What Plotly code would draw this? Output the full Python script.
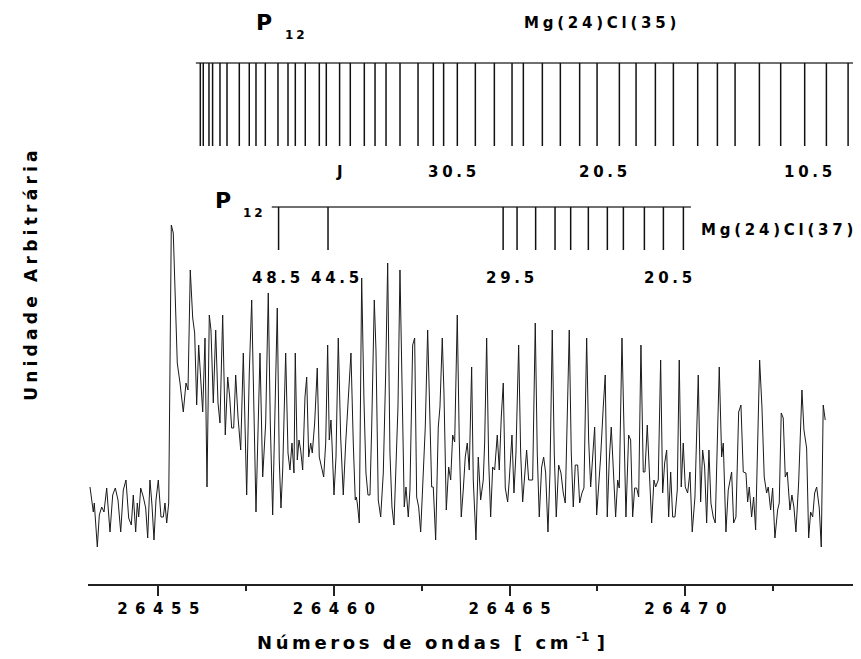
import plotly.graph_objects as go

# ---------------- data ----------------
wavenumber = [
    26453.057, 26453.151, 26453.179, 26453.265, 26453.322, 26453.390, 26453.455, 26453.532, 26453.626, 26453.703,
    26453.777, 26453.854, 26453.931, 26454.005, 26454.081, 26454.158, 26454.232, 26454.289, 26454.357, 26454.403,
    26454.443, 26454.500, 26454.574, 26454.642, 26454.699, 26454.764, 26454.821, 26454.878, 26454.935, 26455.001,
    26455.077, 26455.143, 26455.191, 26455.240, 26455.297, 26455.334, 26455.371, 26455.427, 26455.484, 26455.541,
    26455.618, 26455.712, 26455.789, 26455.846, 26455.911, 26455.980, 26456.036, 26456.093, 26456.150, 26456.207,
    26456.264, 26456.330, 26456.387, 26456.452, 26456.500, 26456.566, 26456.634, 26456.700, 26456.756, 26456.833,
    26456.907, 26456.976, 26457.033, 26457.089, 26457.146, 26457.203, 26457.269, 26457.346, 26457.420, 26457.516,
    26457.590, 26457.659, 26457.704, 26457.781, 26457.895, 26457.972, 26458.057, 26458.131, 26458.188, 26458.256,
    26458.322, 26458.387, 26458.444, 26458.492, 26458.541, 26458.626, 26458.692, 26458.748, 26458.805, 26458.862,
    26458.899, 26458.956, 26459.005, 26459.053, 26459.110, 26459.175, 26459.224, 26459.281, 26459.338, 26459.383,
    26459.451, 26459.525, 26459.582, 26459.651, 26459.708, 26459.765, 26459.821, 26459.867, 26459.915, 26459.944,
    26460.001, 26460.058, 26460.123, 26460.191, 26460.265, 26460.334, 26460.419, 26460.484, 26460.550, 26460.607,
    26460.635, 26460.664, 26460.721, 26460.789, 26460.854, 26460.911, 26460.968, 26461.025, 26461.074, 26461.148,
    26461.196, 26461.261, 26461.330, 26461.404, 26461.472, 26461.529, 26461.594, 26461.651, 26461.708, 26461.765,
    26461.822, 26461.879, 26461.936, 26462.001, 26462.050, 26462.115, 26462.163, 26462.240, 26462.297, 26462.354,
    26462.411, 26462.468, 26462.542, 26462.599, 26462.667, 26462.713, 26462.781, 26462.827, 26462.895, 26462.969,
    26463.017, 26463.083, 26463.131, 26463.197, 26463.265, 26463.322, 26463.379, 26463.436, 26463.510, 26463.566,
    26463.623, 26463.680, 26463.737, 26463.794, 26463.851, 26463.919, 26463.965, 26464.042, 26464.107, 26464.175,
    26464.249, 26464.289, 26464.346, 26464.403, 26464.460, 26464.517, 26464.574, 26464.648, 26464.705, 26464.762,
    26464.819, 26464.876, 26464.944, 26464.989, 26465.066, 26465.123, 26465.180, 26465.257, 26465.314, 26465.371,
    26465.428, 26465.484, 26465.541, 26465.655, 26465.729, 26465.786, 26465.843, 26465.911, 26465.968, 26466.025,
    26466.091, 26466.148, 26466.213, 26466.270, 26466.327, 26466.395, 26466.461, 26466.526, 26466.583, 26466.640,
    26466.697, 26466.754, 26466.811, 26466.868, 26466.936, 26466.993, 26467.058, 26467.115, 26467.192, 26467.249,
    26467.306, 26467.363, 26467.420, 26467.477, 26467.534, 26467.590, 26467.664, 26467.721, 26467.778, 26467.835,
    26467.892, 26467.960, 26468.017, 26468.074, 26468.120, 26468.197, 26468.254, 26468.310, 26468.387, 26468.444,
    26468.501, 26468.558, 26468.615, 26468.672, 26468.737, 26468.803, 26468.851, 26468.917, 26468.974, 26469.042,
    26469.107, 26469.156, 26469.230, 26469.298, 26469.355, 26469.412, 26469.469, 26469.526, 26469.583, 26469.640,
    26469.705, 26469.771, 26469.827, 26469.884, 26469.941, 26469.998, 26470.066, 26470.132, 26470.197, 26470.274,
    26470.368, 26470.436, 26470.493, 26470.550, 26470.607, 26470.672, 26470.729, 26470.795, 26470.852, 26470.966,
    26471.034, 26471.080, 26471.156, 26471.222, 26471.318, 26471.375, 26471.441, 26471.518, 26471.583, 26471.649,
    26471.726, 26471.774, 26471.820, 26471.887, 26471.944, 26472.001, 26472.115, 26472.181, 26472.246, 26472.314,
    26472.360, 26472.428, 26472.485, 26472.550, 26472.627, 26472.673, 26472.730, 26472.787, 26472.844, 26472.901,
    26472.978, 26473.034, 26473.091, 26473.148, 26473.225, 26473.319, 26473.376, 26473.453, 26473.510, 26473.567,
    26473.624, 26473.681, 26473.738, 26473.812, 26473.869, 26473.925, 26473.982,
]

intensity = [
    97, 72, 81, 37, 69, 77, 72, 96, 52, 89,
    96, 84, 52, 94, 104, 66, 59, 89, 52, 81,
    67, 96, 87, 76, 46, 104, 79, 44, 84, 104,
    67, 67, 81, 61, 81, 201, 359, 351, 287, 221,
    201, 172, 201, 194, 314, 266, 251, 179, 239, 201,
    172, 246, 97, 269, 254, 181, 254, 181, 161, 269,
    149, 207, 187, 156, 156, 209, 167, 134, 231, 89,
    211, 284, 197, 72, 231, 107, 161, 291, 161, 69,
    174, 276, 124, 76, 114, 231, 131, 114, 141, 111,
    231, 124, 144, 134, 114, 187, 207, 127, 141, 131,
    161, 216, 127, 114, 107, 141, 239, 144, 164, 141,
    89, 127, 246, 147, 89, 141, 197, 231, 141, 84,
    87, 81, 61, 306, 184, 111, 89, 89, 157, 284,
    234, 84, 67, 111, 211, 321, 131, 77, 59, 111,
    177, 314, 191, 77, 97, 67, 94, 239, 246, 87,
    77, 52, 111, 157, 254, 194, 97, 97, 44, 157,
    177, 246, 191, 74, 117, 104, 149, 142, 269, 144,
    67, 94, 127, 141, 114, 217, 104, 44, 127, 84,
    104, 141, 246, 124, 67, 117, 114, 149, 114, 167,
    201, 96, 82, 104, 149, 91, 131, 239, 131, 82,
    111, 134, 104, 104, 261, 131, 67, 117, 127, 111,
    52, 111, 254, 131, 67, 119, 111, 91, 81, 157,
    254, 131, 77, 119, 119, 81, 91, 96, 246, 144,
    97, 127, 157, 69, 97, 127, 177, 209, 67, 124,
    157, 111, 67, 104, 96, 246, 157, 67, 149, 144,
    67, 96, 96, 87, 239, 112, 112, 159, 114, 61,
    104, 97, 104, 224, 91, 121, 134, 67, 112, 67,
    67, 94, 224, 97, 141, 97, 91, 112, 52, 87,
    209, 82, 134, 117, 61, 134, 81, 67, 61, 217,
    127, 141, 52, 94, 112, 61, 67, 172, 179, 112,
    111, 82, 97, 67, 87, 54, 224, 177, 107, 91,
    97, 74, 96, 46, 74, 81, 171, 166, 107, 112,
    74, 89, 77, 52, 101, 194, 154, 136, 46, 72,
    67, 91, 97, 76, 37, 179, 164,
]

# line positions of the P12 branch, Mg(24)Cl(35)
mgcl35_lines = [
    26456.196, 26456.281, 26456.443, 26456.546, 26456.756, 26456.956, 26457.306, 26457.590,
    26457.781, 26458.046, 26458.407, 26458.692, 26458.900, 26459.184, 26459.583, 26459.782,
    26460.161, 26460.465, 26460.864, 26461.169, 26461.482, 26461.880, 26462.393, 26462.828,
    26463.121, 26463.511, 26464.024, 26464.565, 26465.068, 26465.390, 26465.931, 26466.443,
    26466.993, 26467.488, 26468.123, 26468.598, 26469.148, 26469.660, 26470.352, 26470.913,
    26471.416, 26472.108, 26472.714, 26473.397, 26474.015, 26474.633,
]
mgcl35_labels = ["J", "30.5", "20.5", "10.5"]
mgcl35_label_pos = [26460.17, 26463.36, 26467.66, 26473.49]

# line positions of the P12 branch, Mg(24)Cl(37)
mgcl37_lines = [
    26458.424, 26459.831, 26464.815, 26465.211, 26465.740, 26466.292, 26466.737,
    26467.240, 26467.781, 26468.237, 26468.835, 26469.376, 26469.945,
]
mgcl37_labels = ["48.5", "44.5", "29.5", "20.5"]
mgcl37_label_pos = [26458.35, 26460.03, 26465.01, 26469.51]

tick_values = [26455, 26460, 26465, 26470]
minor_tick_values = [26457.5, 26462.5, 26467.5, 26472.5]

# ---------------- styling ----------------
FONT = "DejaVu Sans"
X_RANGE = [26453.0, 26475.0]
Y_RANGE = [0, 576]


def spaced(text, gap="\u2005"):
    return gap.join(text)


def bold(text):
    return "<b>" + text + "</b>"


fig = go.Figure()

# spectrum
fig.add_trace(go.Scatter(
    x=wavenumber, y=intensity, mode="lines",
    line=dict(color="#1a1a1a", width=1), hoverinfo="skip",
))


def add_stick_set(lines, top, bottom, span, line_color):
    xs, ys = [], []
    for p in lines:
        xs += [p, p, None]
        ys += [top, bottom, None]
    fig.add_trace(go.Scatter(x=span, y=[top, top], mode="lines",
                             line=dict(color=line_color, width=2), hoverinfo="skip"))
    fig.add_trace(go.Scatter(x=xs, y=ys, mode="lines", connectgaps=False,
                             line=dict(color="#111111", width=1.5), hoverinfo="skip"))


add_stick_set(mgcl35_lines, 521, 438, [26456.07, 26474.87], "#707070")
add_stick_set(mgcl37_lines, 377, 334, [26458.23, 26470.16], "#707070")

ann = []


def label(x, y, text, size, gap="\u2005", xanchor="center"):
    ann.append(dict(x=x, y=y, xref="x", yref="y", text=bold(spaced(text, gap)),
                    showarrow=False, xanchor=xanchor, yanchor="middle",
                    font=dict(family=FONT, size=size, color="black")))


# branch labels
label(26458.00, 562, "P", 22)
label(26458.89, 549, "12", 12)
label(26467.57, 561, "Mg(24)Cl(35)", 15, gap="\u2005")
label(26456.84, 384, "P", 22)
label(26457.70, 371, "12", 12)
label(26474.84, 354, "Mg(24)Cl(37)", 15, gap="\u2005", xanchor="right")
for t, xp in zip(mgcl35_labels, mgcl35_label_pos):
    label(xp, 412, t, 15)
for t, xp in zip(mgcl37_labels, mgcl37_label_pos):
    label(xp, 306, t, 15)

# axis titles
xtitle = bold(spaced("Números de ondas [ cm", "\u2009") + "\u2009\u2009<sup>-1</sup>\u2009\u2009]")
ann.append(dict(x=0.4437, y=-0.099, xref="paper", yref="paper", text=xtitle,
                showarrow=False, xanchor="center", yanchor="middle",
                font=dict(family=FONT, size=18, color="black")))
ann.append(dict(x=-0.0737, y=0.535, xref="paper", yref="paper",
                text=bold(spaced("Unidade Arbitrária", "\u2005")), textangle=-90,
                showarrow=False, xanchor="center", yanchor="middle",
                font=dict(family=FONT, size=17, color="black")))

# the page adds an 8 px body margin, so the figure is 8 px smaller and the
# plot area is placed so that it spans page x 88..861 and page y 8..584
fig.update_layout(
    width=853, height=651,
    margin=dict(l=80, r=0, t=0, b=75),
    paper_bgcolor="white", plot_bgcolor="white",
    showlegend=False,
    annotations=ann,
    xaxis=dict(
        range=X_RANGE, showgrid=False, zeroline=False,
        showline=True, linecolor="#222222", linewidth=1.6,
        ticks="outside", ticklen=10, tickwidth=1.5, tickcolor="#222222",
        tickmode="array", tickvals=tick_values,
        ticktext=[spaced(str(v), "\u2002") for v in tick_values],
        tickfont=dict(family=FONT, size=15, color="black", weight="bold"),
        minor=dict(tickmode="array", tickvals=minor_tick_values, ticks="outside",
                   ticklen=5, tickwidth=1.5, tickcolor="#222222", showgrid=False),
    ),
    yaxis=dict(range=Y_RANGE, visible=False, showgrid=False, zeroline=False),
)

fig.write_html("out.html")
